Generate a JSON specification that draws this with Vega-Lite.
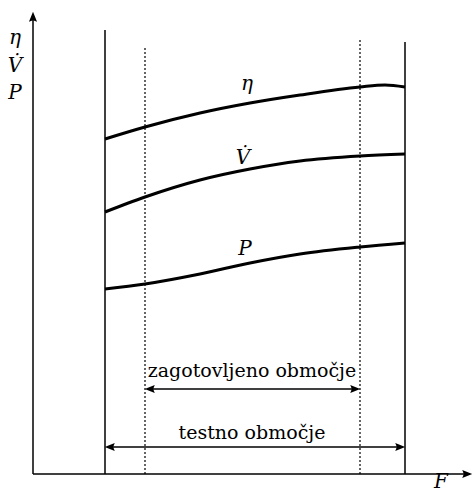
{
  "$schema": "https://vega.github.io/schema/vega-lite/v6.json",
  "width": 474,
  "height": 492,
  "padding": 0,
  "autosize": {"type": "none"},
  "background": "white",
  "config": {"view": {"stroke": null}},
  "datasets": {
    "frame": [
      {"x": 33, "y": 18, "x2": 33, "y2": 476},
      {"x": 33, "y": 18, "x2": 468, "y2": 18},
      {"x": 105, "y": 18, "x2": 105, "y2": 462},
      {"x": 405, "y": 18, "x2": 405, "y2": 450}
    ],
    "guaranteed": [
      {"x": 145, "y": 18, "x2": 145, "y2": 444},
      {"x": 360, "y": 18, "x2": 360, "y2": 454}
    ],
    "spans": [
      {"x": 150, "y": 103, "x2": 355, "y2": 103},
      {"x": 110, "y": 45, "x2": 400, "y2": 45}
    ],
    "curves": [
      {"s": "eta", "x": 105, "y": 353},
      {"s": "eta", "x": 145, "y": 365},
      {"s": "eta", "x": 200, "y": 379},
      {"s": "eta", "x": 250, "y": 389},
      {"s": "eta", "x": 300, "y": 397},
      {"s": "eta", "x": 360, "y": 405},
      {"s": "eta", "x": 385, "y": 407},
      {"s": "eta", "x": 405, "y": 405},
      {"s": "V", "x": 105, "y": 280},
      {"s": "V", "x": 145, "y": 295},
      {"s": "V", "x": 200, "y": 312},
      {"s": "V", "x": 250, "y": 323},
      {"s": "V", "x": 300, "y": 331},
      {"s": "V", "x": 360, "y": 336},
      {"s": "V", "x": 405, "y": 338},
      {"s": "P", "x": 105, "y": 203},
      {"s": "P", "x": 145, "y": 208},
      {"s": "P", "x": 200, "y": 218},
      {"s": "P", "x": 250, "y": 229},
      {"s": "P", "x": 300, "y": 238},
      {"s": "P", "x": 360, "y": 245},
      {"s": "P", "x": 405, "y": 249}
    ],
    "heads": [
      {"x": 33, "y": 474, "ang": 0},
      {"x": 466, "y": 18, "ang": 90},
      {"x": 151, "y": 103, "ang": 270},
      {"x": 354, "y": 103, "ang": 90},
      {"x": 111, "y": 45, "ang": 270},
      {"x": 399, "y": 45, "ang": 90}
    ],
    "symbols": [
      {"x": 247, "y": 408, "t": "η"},
      {"x": 243, "y": 334, "t": "V̇"},
      {"x": 245, "y": 243, "t": "P"},
      {"x": 15, "y": 454, "t": "η"},
      {"x": 15, "y": 426, "t": "V̇"},
      {"x": 15, "y": 399, "t": "P"},
      {"x": 441, "y": 10, "t": "F"}
    ],
    "captions": [
      {"x": 252, "y": 121, "t": "zagotovljeno območje"},
      {"x": 252, "y": 59, "t": "testno območje"}
    ]
  },
  "encoding": {
    "x": {"field": "x", "type": "quantitative", "axis": null, "scale": {"domain": [0, 474], "nice": false, "zero": false}},
    "y": {"field": "y", "type": "quantitative", "axis": null, "scale": {"domain": [0, 492], "nice": false, "zero": false}}
  },
  "layer": [
    {
      "data": {"name": "frame"},
      "mark": {"type": "rule", "color": "black", "strokeWidth": 1.5},
      "encoding": {"x2": {"field": "x2"}, "y2": {"field": "y2"}}
    },
    {
      "data": {"name": "guaranteed"},
      "mark": {"type": "rule", "color": "black", "strokeWidth": 1.2, "strokeDash": [2, 2]},
      "encoding": {"x2": {"field": "x2"}, "y2": {"field": "y2"}}
    },
    {
      "data": {"name": "spans"},
      "mark": {"type": "rule", "color": "black", "strokeWidth": 1.5},
      "encoding": {"x2": {"field": "x2"}, "y2": {"field": "y2"}}
    },
    {
      "data": {"name": "curves"},
      "mark": {"type": "line", "color": "black", "strokeWidth": 3, "interpolate": "monotone"},
      "encoding": {"detail": {"field": "s"}}
    },
    {
      "data": {"name": "heads"},
      "mark": {"type": "point", "shape": "M0,-1L-0.65,0.6L0,0.35L0.65,0.6Z", "filled": true, "color": "black", "opacity": 1, "size": 156},
      "encoding": {"angle": {"field": "ang", "type": "quantitative", "scale": null}}
    },
    {
      "data": {"name": "symbols"},
      "mark": {"type": "text", "font": "DejaVu Serif", "fontStyle": "italic", "fontSize": 20, "color": "black"},
      "encoding": {"text": {"field": "t"}}
    },
    {
      "data": {"name": "captions"},
      "mark": {"type": "text", "font": "DejaVu Serif", "fontSize": 19, "color": "black"},
      "encoding": {"text": {"field": "t"}}
    }
  ]
}
